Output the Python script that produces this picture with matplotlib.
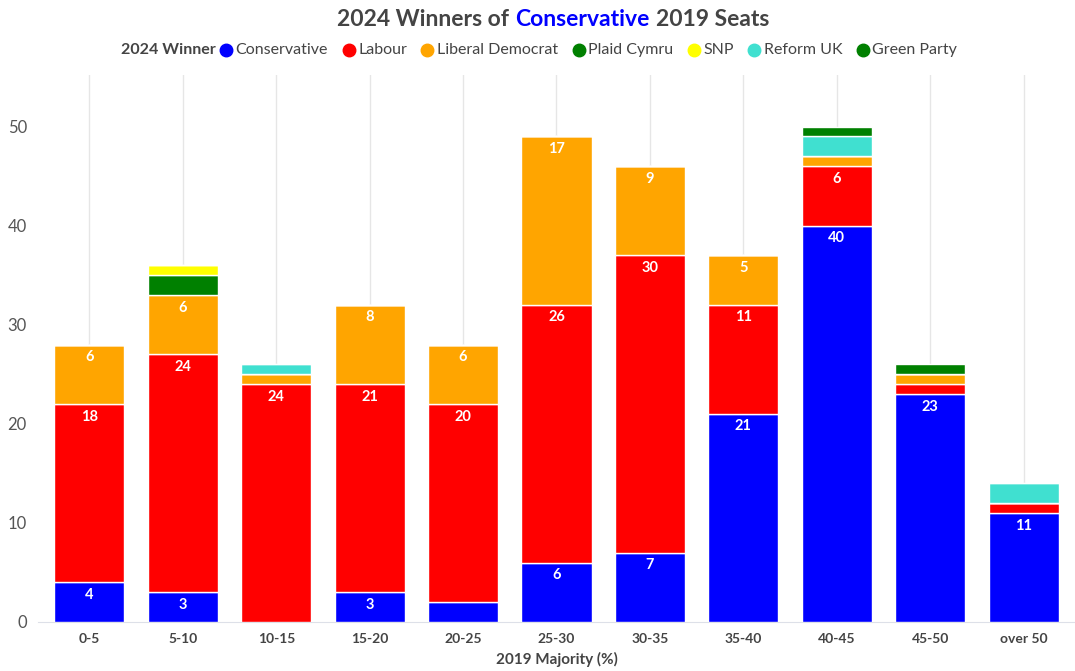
import matplotlib
matplotlib.use("Agg")
from matplotlib import pyplot as plt
from matplotlib.lines import Line2D
import numpy as np

plt.rcParams['font.family'] = ['Lato', 'DejaVu Sans']

categories = ['0-5', '5-10', '10-15', '15-20', '20-25', '25-30',
              '30-35', '35-40', '40-45', '45-50', 'over 50']
conservative = [4, 3, 0, 3, 2, 6, 7, 21, 40, 23, 11]
labour = [18, 24, 24, 21, 20, 26, 30, 11, 6, 1, 1]
libdem = [6, 6, 1, 8, 6, 17, 9, 5, 1, 1, 0]
plaid = [0, 2, 0, 0, 0, 0, 0, 0, 0, 0, 0]
snp = [0, 1, 0, 0, 0, 0, 0, 0, 0, 0, 0]
reform = [0, 0, 1, 0, 0, 0, 0, 0, 2, 0, 2]
green = [0, 0, 0, 0, 0, 0, 0, 0, 1, 1, 0]

parties = ['Conservative', 'Labour', 'Liberal Democrat', 'Plaid Cymru',
           'SNP', 'Reform UK', 'Green Party']
series = [conservative, labour, libdem, plaid, snp, reform, green]
colors = ['#0000ff', '#ff0000', '#ffa500', '#008000',
          '#ffff00', '#40e0d0', '#008000']

TXT = '#444444'
W, H = 1075, 671

fig = plt.figure(figsize=(W / 100, H / 100), dpi=100)
ax = fig.add_axes([38 / W, 49 / H, 1 - 38 / W, 547 / H])

x = np.arange(len(categories))
bottom = np.zeros(len(categories))
for vals, col in zip(series, colors):
    vals = np.array(vals, dtype=float)
    bars = ax.bar(x, vals, 0.75, bottom=bottom, color=col,
                  edgecolor='white', linewidth=1, zorder=3)
    for b, v, btm in zip(bars, vals, bottom):
        if v >= 3:
            ax.annotate(str(int(v)), (b.get_x() + b.get_width() / 2, btm + v),
                        xytext=(0, -4), textcoords='offset points',
                        ha='center', va='top', color='white',
                        fontsize=10.5, fontweight='bold', zorder=4)
    bottom += vals

ax.set_xlim(-0.55, len(categories) - 0.45)
ax.set_ylim(0, 55.2)
ax.set_yticks([0, 10, 20, 30, 40, 50])
ax.set_xticks(x)
ax.set_xticklabels(categories, fontsize=10, fontweight='bold', color=TXT)
ax.tick_params(axis='y', length=0, labelsize=12, labelcolor='#555555', pad=8)
ax.tick_params(axis='x', length=0, pad=8)
ax.grid(axis='x', color='#e6e6e6', linewidth=1, zorder=0)
for s in ['top', 'right', 'left']:
    ax.spines[s].set_visible(False)
ax.spines['bottom'].set_color('#dde0e8')
ax.set_xlabel('2019 Majority (%)', fontsize=11, fontweight='bold',
              color=TXT, labelpad=5)

fig.canvas.draw()
renderer = fig.canvas.get_renderer()


def row(items, y_px, center_px):
    # lay out texts and dots side by side, centred on center_px
    artists = []
    widths = []
    for it in items:
        if it[0] == 'text':
            t = fig.text(0, 1 - y_px / H, it[1], color=it[2], fontweight=it[3],
                         fontsize=it[4], va='center', ha='left')
            artists.append(t)
            widths.append(None)
        elif it[0] == 'dot':
            ln = Line2D([0], [1 - y_px / H], transform=fig.transFigure,
                        marker='o', markersize=9, color=it[1], linestyle='none')
            fig.add_artist(ln)
            artists.append(ln)
            widths.append(13)
        else:
            artists.append(None)
            widths.append(it[1])
    fig.canvas.draw()
    for i, a in enumerate(artists):
        if widths[i] is None:
            widths[i] = a.get_window_extent(renderer).width
    pos = center_px - sum(widths) / 2
    for a, w in zip(artists, widths):
        if isinstance(a, Line2D):
            a.set_xdata([(pos + w / 2) / W])
        elif a is not None:
            a.set_x(pos / W)
        pos += w


row([('text', '2024 Winners of', TXT, 'bold', 16.5), ('gap', 6),
     ('text', 'Conservative', '#0000ff', 'bold', 16.5), ('gap', 6),
     ('text', '2019 Seats', TXT, 'bold', 16.5)], 19, 553)

items = [('text', '2024 Winner', TXT, 'bold', 11.5), ('gap', 4)]
for p, c in zip(parties, colors):
    items += [('dot', c), ('gap', 3), ('text', p, TXT, 'normal', 11.5), ('gap', 14)]
items = items[:-1]
row(items, 50, 539)

fig.savefig('out.png', dpi=100, facecolor='white')
